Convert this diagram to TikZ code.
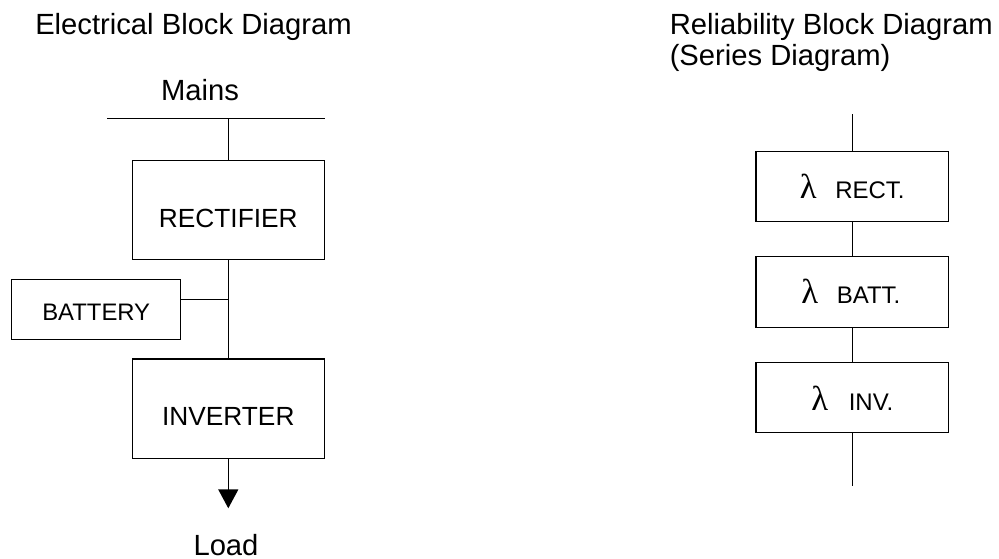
\documentclass[tikz,border=0pt]{standalone}
\usepackage{fontspec}
\setmainfont{Liberation Sans}
\newfontfamily\grkfont{Liberation Serif}
\usetikzlibrary{arrows.meta}
\begin{document}
\begin{tikzpicture}[x=0.75pt,y=-0.75pt,
  wire/.style={line width=1.1pt},
  blockbox/.style={draw,line width=1.1pt,rectangle,inner sep=0pt},
  txt/.style={inner sep=0pt,anchor=base},
  txtw/.style={inner sep=0pt,anchor=base west},
  titlefont/.style={font=\fontsize{21.9}{25}\selectfont},
  bigfont/.style={font=\fontsize{19.7}{23}\selectfont},
  midfont/.style={font=\fontsize{17.9}{21}\selectfont},
  smallfont/.style={font=\fontsize{18}{21}\selectfont},
  lamfont/.style={font=\grkfont\fontsize{26}{30}\selectfont}]
\useasboundingbox (0,0) rectangle (999,559);
% ---- titles
\node[txtw,titlefont] (t1) at (35,35) {Electrical Block Diagram};
\node[txtw,titlefont] (t2) at (669.5,35) {Reliability Block Diagram};
\node[txtw,titlefont] (t3) at (669.5,66) {(Series Diagram)};
% ---- electrical block diagram
\node[txt,titlefont] (mains) at (200,101) {Mains};
\coordinate (mL) at (107,118.3);
\coordinate (mR) at (325,118.3);
\coordinate (mJ) at (228.3,118.3);
\draw[wire] (mL) -- (mR);
\node[blockbox,minimum width=192*0.75pt,minimum height=99*0.75pt] (rect) at (228.3,210.2) {};
\node[blockbox,minimum width=169*0.75pt,minimum height=60.4*0.75pt] (batt) at (96.2,309.5) {};
\node[blockbox,minimum width=192*0.75pt,minimum height=99.7*0.75pt] (inv) at (228.3,408.85) {};
\node[txt,bigfont] (rectT) at (228.3,227.7) {RECTIFIER};
\node[txt,midfont] (battT) at (96.2,321) {BATTERY};
\node[txt,bigfont] (invT) at (228.3,425) {INVERTER};
\draw[wire] (mJ) -- (rect.north);
\draw[wire] (rect.south) -- (inv.north);
\coordinate (bJ) at (228.3,299.3);
\draw[wire] (batt.east |- bJ) -- (bJ);
\coordinate (loadTip) at (228.3,508.3);
\draw[wire,-{Triangle[width=15pt,length=14.25pt]}] (inv.south) -- (loadTip);
\node[txt,titlefont] (load) at (226,555) {Load};
% ---- reliability block diagram
\coordinate (rTop) at (852.5,114.3);
\coordinate (rBot) at (852.5,486);
\node[blockbox,minimum width=192.3*0.75pt,minimum height=70*0.75pt] (r1) at (852.2,186.7) {};
\node[blockbox,minimum width=192.3*0.75pt,minimum height=70.6*0.75pt] (r2) at (852.2,292) {};
\node[blockbox,minimum width=192.3*0.75pt,minimum height=70*0.75pt] (r3) at (852.2,397.7) {};
\draw[wire] (rTop) -- (rTop |- r1.north);
\draw[wire] (rTop |- r1.south) -- (rTop |- r2.north);
\draw[wire] (rTop |- r2.south) -- (rTop |- r3.north);
\draw[wire] (rTop |- r3.south) -- (rBot);
\node[txtw,lamfont] (l1) at (799.5,198.3) {λ};
\node[txtw,smallfont] (l1T) at (835,198.3) {RECT.};
\node[txtw,lamfont] (l2) at (801.2,303.3) {λ};
\node[txtw,smallfont] (l2T) at (836.5,303.3) {BATT.};
\node[txtw,lamfont] (l3) at (811.2,410) {λ};
\node[txtw,smallfont] (l3T) at (848.5,410) {INV.};
\end{tikzpicture}
\end{document}
